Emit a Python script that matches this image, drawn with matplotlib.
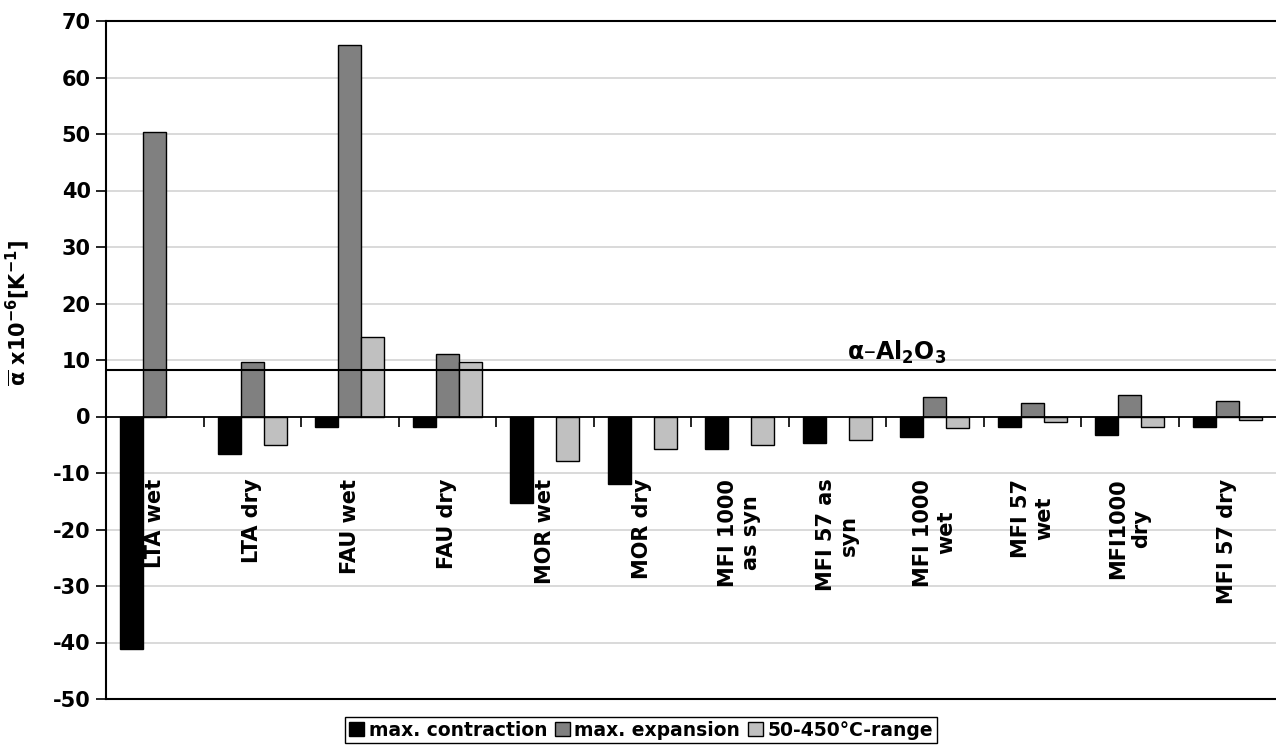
import numpy as np
import matplotlib.pyplot as plt
from matplotlib.patches import Patch

# ----------------------------------------------------------------------
# Data
# ----------------------------------------------------------------------

categories = ["LTA wet", "LTA dry", "FAU wet", "FAU dry", "MOR wet", "MOR dry",
              "MFI 1000\nas syn", "MFI 57 as\nsyn", "MFI 1000\nwet",
              "MFI 57\nwet", "MFI1000\ndry", "MFI 57 dry"]

contraction = [-41.2, -6.6, -1.9, -1.9, -15.3, -12.0,
               -5.8, -4.7, -3.6, -1.9, -3.3, -1.9]
expansion = [50.3, 9.7, 65.7, 11.0, np.nan, np.nan,
             np.nan, np.nan, 3.4, 2.4, 3.8, 2.7]
range_50_450 = [np.nan, -5.1, 14.0, 9.6, -7.9, -5.8,
                -5.1, -4.2, -2.1, -1.0, -1.8, -0.7]

series_names = ["max. contraction", "max. expansion", "50-450°C-range"]
series_colors = ["#000000", "#808080", "#c0c0c0"]

al2o3_value = 8.2
al2o3_label = r"α–Al$_\mathbf{2}$O$_\mathbf{3}$"

y_ticks = list(range(-50, 71, 10))

# ----------------------------------------------------------------------
# Figure
# ----------------------------------------------------------------------

plt.rcParams["mathtext.fontset"] = "dejavusans"
plt.rcParams["mathtext.default"] = "regular"

fig = plt.figure(figsize=(12.76, 7.49), dpi=100)
ax = fig.add_axes([106 / 1276, 1 - 699 / 749, 1 - 106 / 1276, (699 - 21) / 749])

x = np.arange(len(categories))
w = 0.235
for k, (vals, col) in enumerate(zip([contraction, expansion, range_50_450], series_colors)):
    ax.bar(x + (k - 1) * w, vals, width=w, color=col, edgecolor="black",
           linewidth=1.0, zorder=3)

ax.set_xlim(-0.5, len(categories) - 0.5)
ax.set_ylim(-50, 70)
ax.set_yticks(y_ticks)
ax.set_yticklabels([str(t) for t in y_ticks], fontsize=15, fontweight="bold")
ax.tick_params(axis="y", direction="out", length=7, width=1.2, pad=4)

# grid
for t in y_ticks:
    if t != 0:
        ax.axhline(t, color="#cfcfcf", linewidth=1.1, zorder=0)
ax.axhline(0, color="black", linewidth=1.3, zorder=4)
ax.axhline(al2o3_value, color="black", linewidth=1.5, zorder=4)
ax.text(7.61, al2o3_value + 0.8, al2o3_label, ha="center", va="bottom",
        fontsize=17, fontweight="bold")

# category boundaries as tick marks on the zero line
ax.spines["bottom"].set_position(("data", 0))
ax.spines["bottom"].set_visible(False)
ax.set_xticks(np.arange(0.5, len(categories) - 0.5, 1.0))
ax.set_xticklabels([])
ax.tick_params(axis="x", direction="out", length=7, width=1.2)
ax.axhline(-50, color="black", linewidth=1.5, clip_on=False, zorder=5)
ax.spines["right"].set_visible(False)
ax.spines["left"].set_linewidth(1.5)
ax.spines["top"].set_linewidth(1.5)

# category labels inside the plot
for xi, lab in zip(x, categories):
    ax.text(xi, -11.0, lab, rotation=90, ha="center", va="top",
            multialignment="center", fontsize=15, fontweight="bold", zorder=6)

ax.set_ylabel(r"$\overline{α}$ x10$^{\mathbf{-6}}$[K$^{\mathbf{-1}}$]",
              fontsize=15, fontweight="bold")
ax.yaxis.set_label_coords(-0.063, 0.57)

handles = [Patch(facecolor=c, edgecolor="black", linewidth=1.0) for c in series_colors]
fig.legend(handles, series_names, loc="center", bbox_to_anchor=(641 / 1276, 1 - 730 / 749),
           ncol=3, fancybox=False, edgecolor="black", framealpha=1,
           prop={"size": 13.5, "weight": "bold"}, handlelength=0.8, handleheight=0.8,
           handletextpad=0.25, columnspacing=0.4, borderpad=0.2)

fig.savefig("out.png", dpi=100)
